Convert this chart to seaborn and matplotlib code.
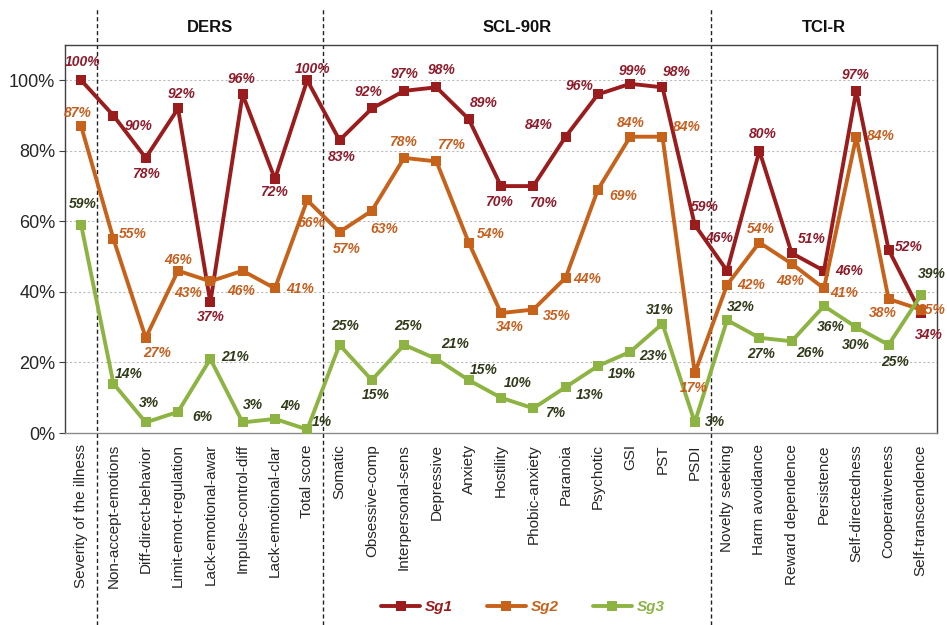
import matplotlib
matplotlib.use("Agg")
import matplotlib.pyplot as plt
import seaborn as sns
import pandas as pd
from matplotlib.lines import Line2D

categories = [
    "Severity of the illness",
    "Non-accept-emotions", "Diff-direct-behavior", "Limit-emot-regulation",
    "Lack-emotional-awar", "Impulse-control-diff", "Lack-emotional-clar", "Total score",
    "Somatic", "Obsessive-comp", "Interpersonal-sens", "Depressive", "Anxiety",
    "Hostility", "Phobic-anxiety", "Paranoia", "Psychotic", "GSI", "PST", "PSDI",
    "Novelty seeking", "Harm avoidance", "Reward dependence", "Persistence",
    "Self-directedness", "Cooperativeness", "Self-transcendence",
]
sg1 = [100, 90, 78, 92, 37, 96, 72, 100,
       83, 92, 97, 98, 89, 70, 70, 84, 96, 99, 98, 59,
       46, 80, 51, 46, 97, 52, 34]
sg2 = [87, 55, 27, 46, 43, 46, 41, 66,
       57, 63, 78, 77, 54, 34, 35, 44, 69, 84, 84, 17,
       42, 54, 48, 41, 84, 38, 35]
sg3 = [59, 14, 3, 6, 21, 3, 4, 1,
       25, 15, 25, 21, 15, 10, 7, 13, 19, 23, 31, 3,
       32, 27, 26, 36, 30, 25, 39]
series_names = ["Sg1", "Sg2", "Sg3"]
groups = ["DERS", "SCL-90R", "TCI-R"]
group_bounds = [(0.5, 7.5), (7.5, 19.5), (19.5, 26.5)]

# label offsets in pixels (dx, dy), dy positive = downward in image
off1 = [(1, -18), (25, 10), (0, 16), (4, -14), (0, 15), (-1, -15), (-1, 13), (5, -11),
        (2, 17), (-3, -16), (0, -17), (5, -17), (15, -16), (-2, 16), (10, 17), (-27, -12),
        (-18, -8), (2, -13), (14, -15), (10, -18),
        (-8, -33), (3, -17), (20, -14), (25, 0), (-1, -16), (20, -3), (8, 22)]
off2 = [(-3, -13), (19, -5), (11, 15), (0, -11), (-22, 12), (-1, 20), (25, 1), (4, 23),
        (7, 17), (12, 18), (-1, -16), (15, -16), (22, -9), (9, 14), (24, 6), (22, 1),
        (25, 6), (1, -14), (24, -10), (-1, 15),
        (24, 0), (1, -14), (-1, 17), (20, 5), (24, -1), (-6, 14), (11, 0)]
off3 = [(2, -21), (15, -10), (3, -19), (24, 5), (25, -2), (10, -17), (15, -13), (15, -7),
        (6, -19), (4, 15), (4, -19), (19, -15), (15, -10), (17, -15), (22, 5), (24, 8),
        (24, 8), (23, 4), (-3, -14), (20, 0),
        (14, -13), (2, 16), (18, 12), (7, 21), (0, 18), (7, 17), (11, -21)]

line_colors = ["#9B1C1C", "#C7621B", "#8DB443"]
text_colors = ["#8E1A2A", "#C65E1C", "#2E3A18"]
legend_colors = ["#9B1C1C", "#C7621B", "#8DB443"]

rows = []
for name, vals in zip(series_names, [sg1, sg2, sg3]):
    for i, v in enumerate(vals):
        rows.append({"idx": i, "value": v, "series": name})
df = pd.DataFrame(rows)

sns.set_style("white")
plt.rcParams["font.family"] = ["Liberation Sans", "DejaVu Sans"]

fig = plt.figure(figsize=(9.47, 6.25), dpi=100)
ax = fig.add_axes([65 / 947, 1 - 433 / 625, (937 - 65) / 947, (433 - 45) / 625])

sns.lineplot(data=df, x="idx", y="value", hue="series", palette=line_colors,
             marker="s", markersize=7, markeredgewidth=0, linewidth=2.8,
             legend=False, ax=ax, zorder=3)

for vals, offs, tc in zip([sg1, sg2, sg3], [off1, off2, off3], text_colors):
    for i, (v, (dx, dy)) in enumerate(zip(vals, offs)):
        ax.annotate(f"{v}%", (i, v), xytext=(dx, -dy), textcoords="offset pixels",
                    ha="center", va="center", fontsize=10, fontweight="bold",
                    fontstyle="italic", color=tc, zorder=5)

ax.set_xlim(-0.5, 26.5)
ax.set_ylim(0, 110)
ax.set_yticks([0, 20, 40, 60, 80, 100])
ax.set_yticklabels([f"{t}%" for t in [0, 20, 40, 60, 80, 100]], fontsize=13)
ax.set_xticks(range(len(categories)))
ax.set_xticklabels(categories, rotation=90, fontsize=11)
ax.set_xlabel("")
ax.set_ylabel("")
ax.tick_params(axis="y", length=4, width=0.8, color="#404040", pad=3, left=True)
ax.tick_params(axis="x", length=0, pad=8)
for y in [20, 40, 60, 80, 100]:
    ax.axhline(y, color="#BDBDBD", linestyle=(0, (2, 2)), linewidth=0.8, zorder=1)
for s in ax.spines.values():
    s.set_color("#404040")
    s.set_linewidth(1.0)
ax.spines["bottom"].set_color("#8a8a8a")

for xb in [0.5, 7.5, 19.5]:
    ax.axvline(xb, ymin=-0.495, ymax=1.095, color="#222222", linestyle=(0, (3, 2)),
               linewidth=1.0, clip_on=False, zorder=2)

for g, (a, b) in zip(groups, group_bounds):
    xm = (a + b) / 2
    ax.text(xm, 1.044, g, transform=ax.get_xaxis_transform(), ha="center", va="center",
            fontsize=12, fontweight="bold", color="#111111")

handles = [Line2D([0], [0], color=c, lw=2.8, marker="s", markersize=7, markeredgewidth=0)
           for c in line_colors]
leg = fig.legend(handles, series_names, loc="center", bbox_to_anchor=(0.552, 0.028),
                 ncol=3, frameon=False, handlelength=2.6, columnspacing=2.2,
                 handletextpad=0.3, prop={"size": 11, "weight": "bold", "style": "italic"})
for t, c in zip(leg.get_texts(), legend_colors):
    t.set_color(c)

fig.savefig("out.png", dpi=100)
